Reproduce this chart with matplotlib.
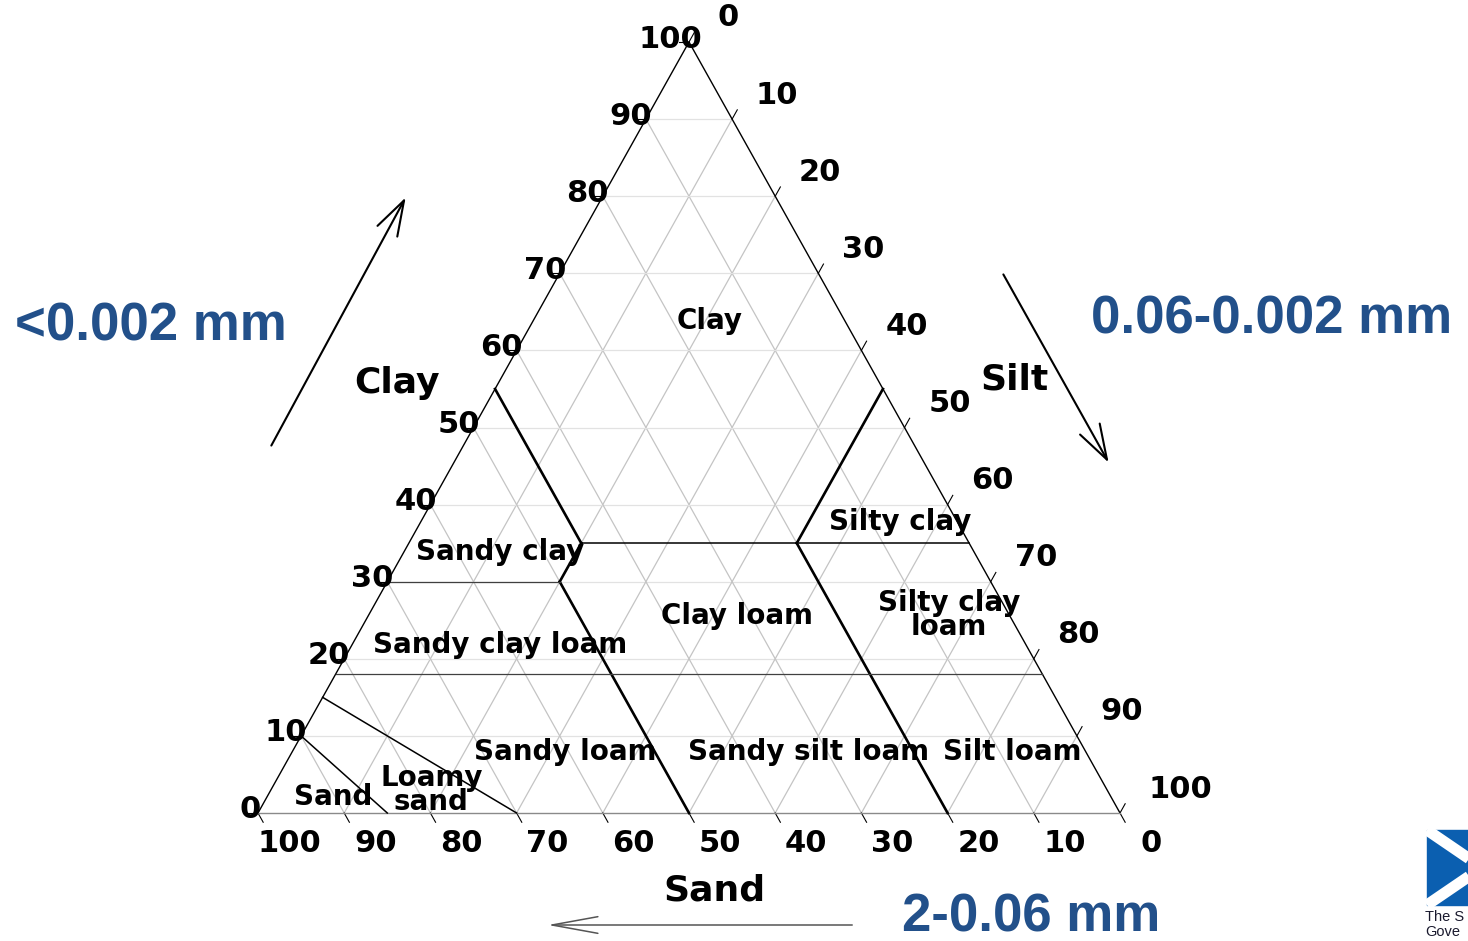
import matplotlib
matplotlib.use('Agg')
import matplotlib.pyplot as plt
from matplotlib.patches import Rectangle

# ---------------- data ----------------
tick_values = [0, 10, 20, 30, 40, 50, 60, 70, 80, 90, 100]
tick_labels = [str(v) for v in tick_values]

# class boundaries as (sand, silt, clay) end points
thick_bounds = [
    [(45, 0, 55), (45, 20, 35)],
    [(45, 20, 35), (50, 20, 30)],
    [(50, 20, 30), (50, 50, 0)],
    [(0, 45, 55), (20, 45, 35)],
    [(20, 45, 35), (20, 80, 0)],
]
thin_bounds = [
    [(45, 20, 35), (0, 65, 35)],
    [(85, 0, 15), (70, 30, 0)],
    [(90, 0, 10), (85, 15, 0)],
]
gray_bounds = [
    [(70, 0, 30), (50, 20, 30)],
    [(82, 0, 18), (0, 82, 18)],
]

# texture class labels: (text, silt, clay)
class_labels = [
    ("Clay", 20.5, 63.8),
    ("Sandy clay", 11.1, 33.9),
    ("Silty clay", 55.6, 37.7),
    ("Sandy clay loam", 17.2, 21.8),
    ("Clay loam", 42.8, 25.5),
    ("Silty clay\nloam", 67.3, 25.7),
    ("Sandy loam", 31.7, 7.9),
    ("Sandy silt loam", 59.9, 7.9),
    ("Silt loam", 83.5, 7.9),
    ("Loamy\nsand", 18.6, 3.0),
    ("Sand", 7.7, 2.1),
]
axis_names = [("Clay", -11.8, 55.8), ("Silt", 59.7, 56.2), ("Sand", 58.0, -10.0)]
size_labels = ["<0.002 mm", "0.06-0.002 mm", "2-0.06 mm"]
logo_lines = ["The S", "Gove"]

BLUE = "#22508a"

# ---------------- figure ----------------
W, H = 1468, 941
fig = plt.figure(figsize=(W / 100, H / 100), dpi=100)
ax = fig.add_axes([258 / W, 128 / H, 862 / W, 771 / H])
ax.set_xlim(0, 1)
ax.set_ylim(0, 1)
ax.axis('off')


def xy(silt, clay):
    return (silt + clay / 2) / 100.0, clay / 100.0


def seg(p, q, **kw):
    x1, y1 = xy(p[1], p[2])
    x2, y2 = xy(q[1], q[2])
    ax.plot([x1, x2], [y1, y2], clip_on=False, **kw)


# grid
for v in tick_values[1:-1]:
    seg((100 - v, 0, v), (0, 100 - v, v), color="#e2e2e2", lw=0.9, zorder=1)
    seg((100 - v, v, 0), (0, v, 100 - v), color="#c4c4c4", lw=0.9, zorder=1)
    seg((v, 100 - v, 0), (v, 0, 100 - v), color="#c4c4c4", lw=0.9, zorder=1)

# triangle edges
seg((100, 0, 0), (0, 0, 100), color="black", lw=1.0, zorder=3)
seg((0, 0, 100), (0, 100, 0), color="black", lw=1.0, zorder=3)
seg((100, 0, 0), (0, 100, 0), color="#8a8a8a", lw=1.0, zorder=3)

# ticks
k = 1.2
for v in tick_values:
    x, y = xy(0, v)
    ax.plot([x, x - k / 100], [y, y], color="black", lw=0.8, clip_on=False)
    x, y = xy(v, 0)
    ax.plot([x, x + 0.5 * k / 100], [y, y - k / 100], color="black", lw=0.8, clip_on=False)
    x, y = xy(v, 100 - v)
    ax.plot([x, x + 0.5 * k / 100], [y, y + k / 100], color="black", lw=0.8, clip_on=False)

# boundaries
for p, q in thick_bounds:
    seg(p, q, color="black", lw=1.9, zorder=4)
for p, q in thin_bounds:
    seg(p, q, color="black", lw=1.1, zorder=4)
for p, q in gray_bounds:
    seg(p, q, color="#404040", lw=0.9, zorder=4)

tfont = dict(fontsize=22, fontweight='bold', family='DejaVu Sans', color='black',
             va='center', ha='center', annotation_clip=False, zorder=6)
left_off = {1: -8, 2: -15, 3: -19}
right_off = {1: 39, 2: 45, 3: 60}
for v, lab in zip(tick_values, tick_labels):
    # left (clay)
    ax.annotate(lab, xy=xy(0, v), xytext=(left_off[len(lab)], 3),
                textcoords='offset pixels', **tfont)
    # bottom (sand)
    ax.annotate(lab, xy=xy(100 - v, 0), xytext=(31, -30),
                textcoords='offset pixels', **tfont)
    # right (silt)
    ax.annotate(lab, xy=xy(v, 100 - v), xytext=(right_off[len(lab)], 24),
                textcoords='offset pixels', **tfont)

for txt, s, c in class_labels:
    x, y = xy(s, c)
    ax.text(x, y, txt, fontsize=20, fontweight='bold', family='DejaVu Sans',
            ha='center', va='center', linespacing=0.85, zorder=6, clip_on=False)

for txt, s, c in axis_names:
    x, y = xy(s, c)
    ax.text(x, y, txt, fontsize=26, fontweight='bold', family='DejaVu Sans',
            ha='center', va='center', zorder=6, clip_on=False)

# grain size labels
bfont = dict(fontsize=38, fontweight='bold', family='Liberation Sans', color=BLUE,
             ha='center', va='center')
fig.text(151 / W, 1 - 326 / H, size_labels[0], **bfont)
fig.text(1272 / W, 1 - 320 / H, size_labels[1], **bfont)
fig.text(1031 / W, 1 - 918 / H, size_labels[2], **bfont)

# arrows
fig.patches.append(matplotlib.patches.FancyArrowPatch(
    (270 / W, 1 - 448 / H), (407 / W, 1 - 195 / H), transform=fig.transFigure,
    arrowstyle='->,head_length=1.4,head_width=0.45', mutation_scale=18,
    color='black', lw=1.5))
fig.patches.append(matplotlib.patches.FancyArrowPatch(
    (1002 / W, 1 - 272 / H), (1110 / W, 1 - 465 / H), transform=fig.transFigure,
    arrowstyle='->,head_length=1.4,head_width=0.45', mutation_scale=18,
    color='black', lw=1.5))
fig.patches.append(matplotlib.patches.FancyArrowPatch(
    (855 / W, 1 - 925 / H), (545 / W, 1 - 925 / H), transform=fig.transFigure,
    arrowstyle='->,head_length=2.2,head_width=0.4', mutation_scale=15,
    color='#555555', lw=1.1))

# logo (partially cut at figure edge, as in the reference)
fig.patches.append(Rectangle((1427 / W, 1 - 905 / H), 110 / W, 75 / H,
                             transform=fig.transFigure, color='#0b5fb0', zorder=1))
cx, cy = 1482, 867.5
for (x0, y0) in [(1427, 830), (1427, 905)]:
    fig.lines.append(matplotlib.lines.Line2D([x0 / W, cx / W], [1 - y0 / H, 1 - cy / H],
                                             transform=fig.transFigure, color='white',
                                             lw=8, solid_capstyle='butt', zorder=2))
fig.text(1425 / W, 1 - 917 / H, logo_lines[0], fontsize=10.5, family='Liberation Sans',
         color='#1a1a2e', ha='left', va='center')
fig.text(1425 / W, 1 - 932 / H, logo_lines[1], fontsize=10.5, family='Liberation Sans',
         color='#1a1a2e', ha='left', va='center')

fig.savefig("out.png", dpi=100)
